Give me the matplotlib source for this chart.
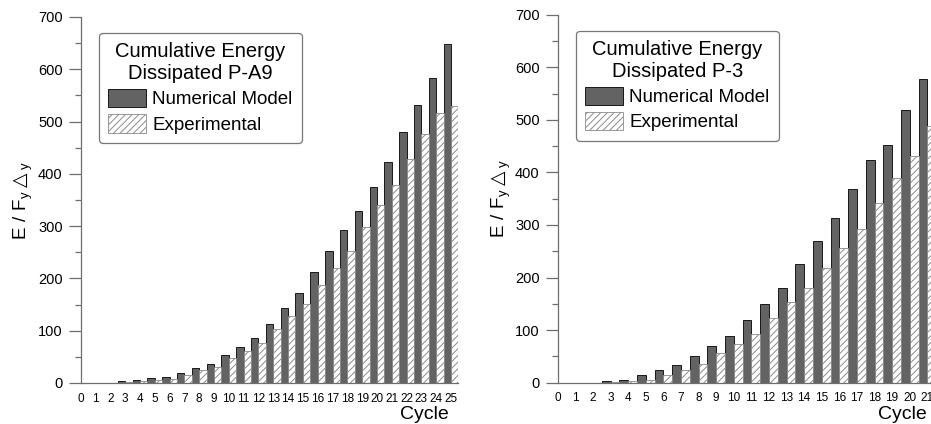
import matplotlib
matplotlib.use('Agg')
import matplotlib.pyplot as plt
from matplotlib.patches import Patch
from matplotlib.ticker import MultipleLocator
import numpy as np

plt.rcParams['font.family'] = ['Liberation Sans', 'DejaVu Sans']
plt.rcParams['hatch.linewidth'] = 0.7

# left panel: specimen P-A9, cycles 0..25
cycles_a9 = list(range(0, 26))
numerical_a9 = [0, 0, 0, 3, 5, 9, 11, 19, 29, 37, 53, 69, 86, 113, 143, 172, 213, 253, 293, 329, 375, 422, 481, 532, 584, 649]
experimental_a9 = [0, 0, 0, 2, 4, 6, 8, 15, 24, 31, 47, 62, 77, 103, 128, 151, 187, 220, 253, 298, 341, 379, 429, 476, 516, 529]

# right panel: specimen P-3, cycles 0..21
cycles_p3 = list(range(0, 22))
numerical_p3 = [0, 0, 0, 2.5, 5, 14, 24, 33, 50, 69, 88, 119, 149, 181, 226, 270, 313, 369, 424, 453, 518, 577]
experimental_p3 = [0, 0, 0, 1, 2.5, 5, 15, 25, 35, 56, 73, 92, 124, 153, 180, 219, 257, 293, 341, 389, 432, 488]

titles = ['Cumulative Energy\nDissipated P-A9', 'Cumulative Energy\nDissipated P-3']

W, H = 931, 424
fig = plt.figure(figsize=(W / 100, H / 100), dpi=100)

axes_px = [(80.7, 41.0, 377.7, 366.0), (557.7, 41.3, 378.4, 368.0)]
panels = [(cycles_a9, numerical_a9, experimental_a9, 25.5),
          (cycles_p3, numerical_p3, experimental_p3, 21.5)]
ylabel_pads = [2, 1.5]

axis_grey = '#6e6e6e'
ylab = r'$\mathregular{E\ /\ F_y}\bigtriangleup_\mathregular{y}$'

for (x0, y0, w, h), (cyc, num, exp, xmax), title, lpad in zip(axes_px, panels, titles, ylabel_pads):
    ax = fig.add_axes([x0 / W, y0 / H, w / W, h / H])
    x = np.array(cyc)
    ax.bar(x - 0.25, num, width=0.5, color='#636363', edgecolor='black', linewidth=0.6)
    ax.bar(x + 0.25, exp, width=0.5, color='white', edgecolor='#8a8a8a', linewidth=0.6, hatch='/////')

    ax.set_xlim(0, xmax)
    ax.set_ylim(0, 700)
    ax.set_xticks(cyc)
    ax.yaxis.set_major_locator(MultipleLocator(100))
    ax.yaxis.set_minor_locator(MultipleLocator(50))
    for s in ['top', 'right']:
        ax.spines[s].set_visible(False)
    for s in ['left', 'bottom']:
        ax.spines[s].set_color(axis_grey)
        ax.spines[s].set_linewidth(0.9)
    ax.tick_params(axis='y', which='major', length=9, width=0.9, color=axis_grey, labelsize=10.5, pad=4)
    ax.tick_params(axis='y', which='minor', length=4.5, width=0.9, color=axis_grey)
    ax.tick_params(axis='x', length=0, labelsize=8.5, pad=7)

    ax.set_ylabel(ylab, fontsize=13.5, labelpad=lpad)
    ax.set_xlabel('Cycle', fontsize=14, ha='right')
    ax.xaxis.set_label_coords(0.975, -0.064)

    handles = [Patch(facecolor='#636363', edgecolor='black', linewidth=0.6),
               Patch(facecolor='white', edgecolor='#8a8a8a', linewidth=0.6, hatch='/////')]
    leg = ax.legend(handles, ['Numerical Model', 'Experimental'], title=title,
                    loc='upper left', bbox_to_anchor=(0.048, 0.957), borderaxespad=0,
                    fontsize=13.5, title_fontsize=14.5, fancybox=True, framealpha=1,
                    edgecolor='#777777', handlelength=2.0, handleheight=1.15,
                    handletextpad=0.35, labelspacing=0.3, borderpad=0.5)
    leg.get_title().set_multialignment('center')
    leg.get_frame().set_linewidth(0.9)

fig.savefig('out.png', dpi=100)
